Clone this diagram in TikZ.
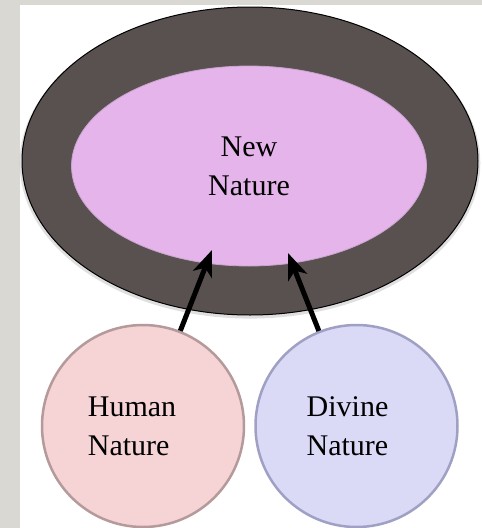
\documentclass[tikz,border=0pt]{standalone}
\usepackage{fontspec}
\setmainfont{Liberation Serif}
\usepackage{xcolor}
\definecolor{pageGray}   {HTML}{DAD8D3}
\definecolor{rimDark}    {HTML}{58514F}
\definecolor{newBack}    {HTML}{E5B4EB}
\definecolor{newEdge}    {HTML}{C9A3CE}
\definecolor{humanBack}  {HTML}{F6D3D4}
\definecolor{humanEdge}  {HTML}{B59A9C}
\definecolor{divineBack} {HTML}{DADAF6}
\definecolor{divineEdge} {HTML}{A0A0C4}
\usetikzlibrary{arrows.meta, positioning, shapes.geometric, shadows}
\tikzset{
    rim/.style={ellipse, draw=black, line width=1pt, fill=rimDark,
                minimum width=456pt, minimum height=308pt, inner sep=0pt,
                drop shadow={opacity=0.25, shadow xshift=0pt,
                             shadow yshift=-2pt, shadow scale=1.01}},
    core/.style={ellipse, draw=newEdge, thick, fill=newBack,
                 minimum width=355pt, minimum height=200pt, inner sep=0pt,
                 align=center, font=\fontsize{30}{39}\selectfont},
    nature/.style={circle, line width=2.5pt, minimum size=202pt, inner sep=0pt},
    vhuman/.style={nature, draw=humanEdge, fill=humanBack},
    vdivine/.style={nature, draw=divineEdge, fill=divineBack},
    word/.style={align=left, inner sep=0pt, font=\fontsize{30}{39}\selectfont},
    feed/.style={-{Stealth[length=26pt, width=20pt, inset=7pt]}, line width=5pt},
}

\begin{document}
\begin{tikzpicture}[x=1pt, y=-1pt]
    % page and margins
    \fill[pageGray] (0,0) rectangle (482,528);
    \fill[white] (20,5) rectangle (482,528);
    \useasboundingbox (0,0) rectangle (482,528);

    \node[rim] (rim) at (250,161) {};
    \node[core] (new) at (249,166) {New\\Nature};

    \node[vhuman] (human) at (143,426) {};
    \node[vdivine, right=9pt of human] (divine) {};
    \node[word] (humanText) at ([xshift=-11pt]human.center) {Human\\Nature};
    \node[word] (divineText) at ([xshift=-9pt]divine.center) {Divine\\Nature};

    \coordinate (tipH) at (212,250);
    \coordinate (tipD) at (288,253);
    \draw[feed] (human) -- (tipH);
    \draw[feed] (divine) -- (tipD);
\end{tikzpicture}
\end{document}
